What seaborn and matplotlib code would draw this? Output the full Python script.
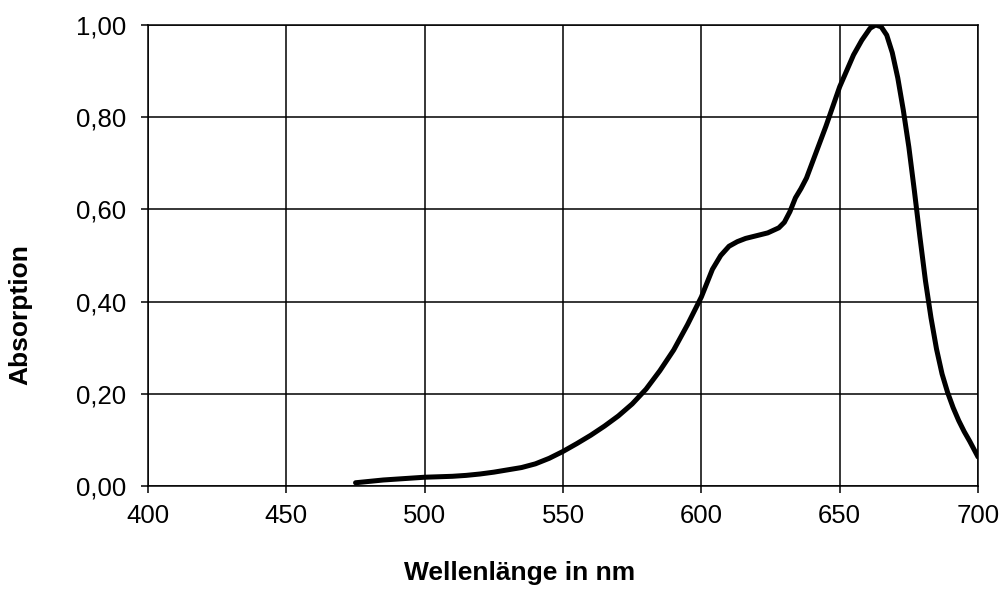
import matplotlib
matplotlib.use("Agg")
import matplotlib.pyplot as plt
from matplotlib.ticker import FuncFormatter, MultipleLocator
import pandas as pd
import seaborn as sns

# absorption spectrum
wavelength = [475, 480, 485, 490, 495, 500, 505, 510, 515, 520, 525, 530,
              535, 540, 545, 550, 555, 560, 565, 570, 575, 580, 585, 590,
              595, 600, 604, 607, 610, 613, 616, 620, 624, 628, 630, 632,
              634, 636, 638, 640, 645, 650, 655, 658, 661, 663, 665, 667,
              669, 671, 673, 675, 677, 679, 681, 683, 685, 687, 689, 691,
              693, 695, 697, 700]
absorption = [0.007, 0.010, 0.013, 0.015, 0.017, 0.019, 0.020, 0.021, 0.023,
              0.026, 0.030, 0.035, 0.040, 0.048, 0.060, 0.075, 0.092, 0.110,
              0.130, 0.152, 0.178, 0.210, 0.250, 0.295, 0.350, 0.410, 0.470,
              0.500, 0.520, 0.530, 0.537, 0.543, 0.549, 0.560, 0.572, 0.595,
              0.625, 0.645, 0.668, 0.700, 0.780, 0.866, 0.935, 0.967, 0.993,
              1.000, 0.996, 0.978, 0.940, 0.885, 0.815, 0.735, 0.640, 0.540,
              0.445, 0.365, 0.297, 0.243, 0.203, 0.170, 0.142, 0.118, 0.097,
              0.063]

df = pd.DataFrame({"nm": wavelength, "abs": absorption})

sns.set_theme(style="white")
plt.rcParams.update({
    "font.family": ["Liberation Sans", "DejaVu Sans"],
    "text.color": "black",
    "axes.labelcolor": "black",
    "axes.edgecolor": "black",
    "axes.linewidth": 1.1,
    "xtick.color": "black",
    "ytick.color": "black",
})

fig = plt.figure(figsize=(10.03, 5.89), dpi=100)
ax = fig.add_axes([0.1476, 0.1749, 0.8275, 0.7827])

sns.lineplot(data=df, x="nm", y="abs", ax=ax, color="black", lw=3.6,
             solid_capstyle="round", solid_joinstyle="round", zorder=3)

ax.set_xlim(400, 700)
ax.set_ylim(0, 1.0)
ax.xaxis.set_major_locator(MultipleLocator(50))
ax.yaxis.set_major_locator(MultipleLocator(0.2))
ax.yaxis.set_major_formatter(FuncFormatter(lambda v, _: f"{v:.2f}".replace(".", ",")))
ax.grid(True, color="black", lw=1.1)
ax.tick_params(axis="both", direction="out", length=5, width=1.1,
               labelsize=18.5, colors="black", bottom=True, left=True)
ax.tick_params(axis="y", pad=11)
ax.tick_params(axis="x", pad=8)
for s in ax.spines.values():
    s.set_visible(True)
    s.set_color("black")

ax.set_xlabel("Wellenlänge in nm", fontsize=19, fontweight="bold", va="center")
ax.set_ylabel("Absorption", fontsize=19, fontweight="bold", va="center")
ax.xaxis.set_label_coords(0.448, -0.189)
ax.yaxis.set_label_coords(-0.154, 0.371)

fig.savefig("out.png", dpi=100)
plt.close(fig)
